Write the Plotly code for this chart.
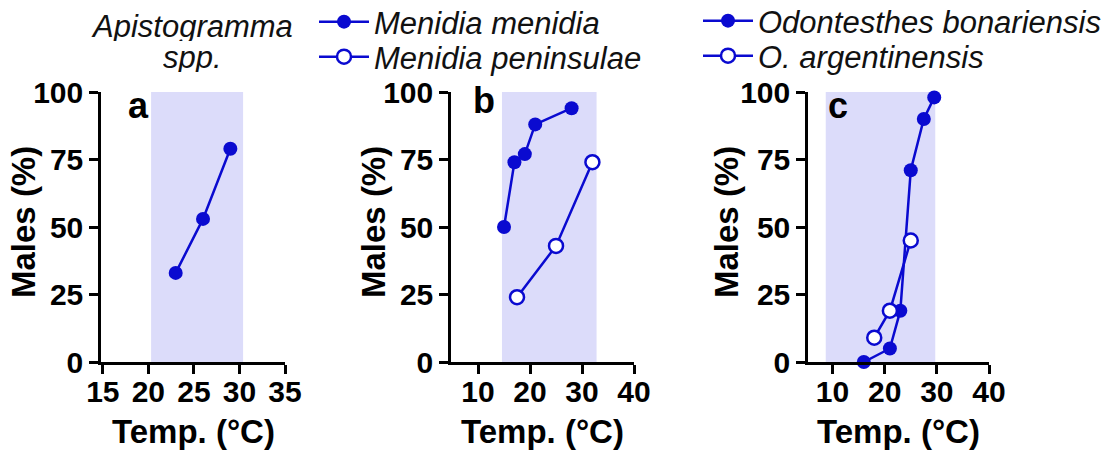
import plotly.graph_objects as go

# ---------------- data ----------------
# Panel a: Apistogramma spp.
apisto_temp = [23, 26, 29]
apisto_males = [33, 53, 79]

# Panel b: Menidia
menidia_temp = [15, 17, 19, 21, 28]
menidia_males = [50, 74, 77, 88, 94]
peninsulae_temp = [17.5, 25, 32]
peninsulae_males = [24, 43, 74]

# Panel c: Odontesthes
bonar_temp = [16, 21, 23, 25, 27.5, 29.5]
bonar_males = [0, 5, 19, 71, 90, 98]
argent_temp = [18, 21, 25]
argent_males = [9, 19, 45]

# shaded temperature ranges for each panel
shade_a = [20.3, 30.4]
shade_b = [14.6, 32.8]
shade_c = [8.7, 29.7]

y_ticks = [0, 25, 50, 75, 100]
x_ticks_a = [15, 20, 25, 30, 35]
x_ticks_bc = [10, 20, 30, 40]

panel_labels = ["a", "b", "c"]
legend_names = ["Menidia menidia", "Menidia peninsulae",
                "Odontesthes bonariensis", "O. argentinensis"]

# ---------------- styling ----------------
W, H = 1112, 456
BLUE = "#0a0ad0"
SHADE = "#dcdcfa"
FONT = "Liberation Sans, Arial, sans-serif"

def px_x(p):
    return p / W

def px_y(p):
    return 1 - p / H

y_dom = [px_y(362), px_y(92)]
x_doms = [[px_x(101), px_x(285)], [px_x(451), px_x(634)], [px_x(808), px_x(989)]]
x_ranges = [[14.8, 35], [4.8, 40], [5.3, 40]]
x_tickvals = [x_ticks_a, x_ticks_bc, x_ticks_bc]

fig = go.Figure()

def add_series(x, y, axis, filled, name, legend=None):
    fig.add_trace(go.Scatter(
        x=x, y=y, mode="lines+markers", name=name,
        xaxis="x" + axis, yaxis="y" + axis,
        line=dict(color=BLUE, width=2.5),
        marker=dict(size=14, color=BLUE if filled else "white",
                    line=dict(color=BLUE, width=0 if filled else 2.5)),
        cliponaxis=False,
        showlegend=legend is not None,
        legend=legend if legend else "legend",
    ))

add_series(apisto_temp, apisto_males, "", True, "Apistogramma spp.")
add_series(menidia_temp, menidia_males, "2", True, legend_names[0], "legend")
add_series(peninsulae_temp, peninsulae_males, "2", False, legend_names[1], "legend2")
add_series(bonar_temp, bonar_males, "3", True, legend_names[2], "legend3")
add_series(argent_temp, argent_males, "3", False, legend_names[3], "legend4")

axis_common = dict(showline=True, linecolor="black", linewidth=2.5,
                   ticks="outside", ticklen=9, tickwidth=2.5, tickcolor="black",
                   showgrid=False, zeroline=False, automargin=False,
                   tickfont=dict(family=FONT, size=30, color="black", weight="bold"))

layout = dict(width=W, height=H,
              margin=dict(l=0, r=0, t=0, b=0, pad=0, autoexpand=False),
              plot_bgcolor="white", paper_bgcolor="white", showlegend=True)

shapes = []
annotations = []
shades = [shade_a, shade_b, shade_c]
y_title_x = [23, 373, 726]
label_pos = [(138, 106), (484, 100), (838, 106)]
for i in range(3):
    s = "" if i == 0 else str(i + 1)
    layout["xaxis" + s] = dict(domain=x_doms[i], range=x_ranges[i], anchor="y" + s,
                               tickvals=x_tickvals[i], ticklabelstandoff=-8,
                               **axis_common)
    layout["yaxis" + s] = dict(domain=y_dom, range=[0, 100], anchor="x" + s,
                               tickvals=y_ticks, **axis_common)
    shapes.append(dict(type="rect", xref="x" + s, yref="y" + s,
                       x0=shades[i][0], x1=shades[i][1], y0=0, y1=100,
                       fillcolor=SHADE, line=dict(width=0), layer="below"))
    annotations.append(dict(text="Temp. (°C)", xref="x" + s + " domain", x=0.5,
                            yref="paper", y=px_y(431), showarrow=False,
                            xanchor="center", yanchor="middle",
                            font=dict(family=FONT, size=33, color="black", weight="bold")))
    annotations.append(dict(text="Males (%)", xref="paper", x=px_x(y_title_x[i]),
                            yref="paper", y=px_y(222), showarrow=False, textangle=-90,
                            xanchor="center", yanchor="middle",
                            font=dict(family=FONT, size=33, color="black", weight="bold")))
    annotations.append(dict(text=panel_labels[i], xref="paper", x=px_x(label_pos[i][0]),
                            yref="paper", y=px_y(label_pos[i][1]), showarrow=False,
                            xanchor="center", yanchor="middle",
                            font=dict(family=FONT, size=36, color="black", weight="bold")))

for txt, yy in [("Apistogramma", 26), ("spp.", 57)]:
    annotations.append(dict(text=txt, xref="paper", x=px_x(192), yref="paper", y=px_y(yy),
                            showarrow=False, xanchor="center", yanchor="middle",
                            height=30, valign="middle",
                            font=dict(family=FONT, size=31, color="#111111", style="italic")))

leg_font = dict(family=FONT, size=31, color="#111111", style="italic")
leg_pos = {"legend": (314, 22), "legend2": (314, 57), "legend3": (698, 21), "legend4": (698, 56)}
for k, (lx, ly) in leg_pos.items():
    layout[k] = dict(x=px_x(lx), y=px_y(ly), xanchor="left", yanchor="middle",
                     font=leg_font, bgcolor="rgba(0,0,0,0)", borderwidth=0,
                     itemwidth=50)

layout["shapes"] = shapes
layout["annotations"] = annotations
fig.update_layout(**layout)
fig.write_html("out.html", config={"displayModeBar": False},
               post_script="document.body.style.margin='0px';")
